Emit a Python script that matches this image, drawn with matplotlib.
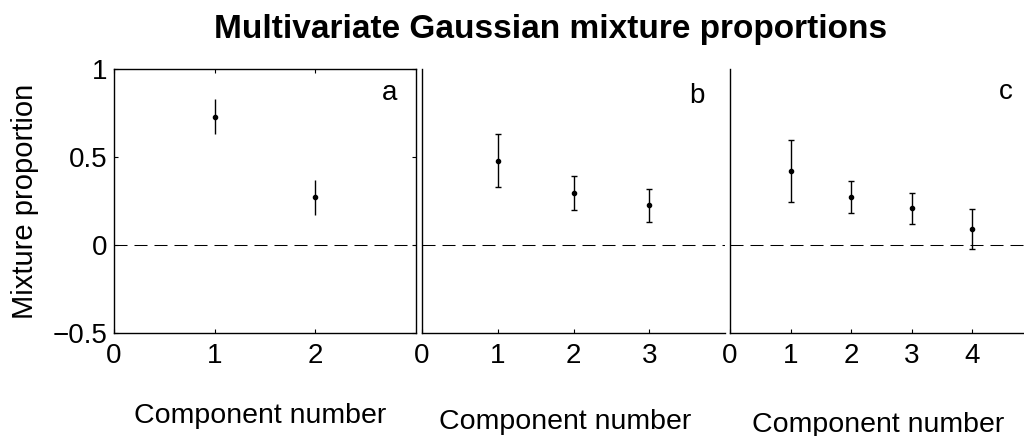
import matplotlib
matplotlib.use("Agg")
import matplotlib.pyplot as plt

plt.rcParams['font.family'] = ['Liberation Sans', 'DejaVu Sans']

# Data
panel_labels = ["a", "b", "c"]
a_x = [1, 2]
a_mean = [0.73, 0.27]
a_err = [0.10, 0.10]
b_x = [1, 2, 3]
b_mean = [0.48, 0.295, 0.225]
b_err = [0.15, 0.095, 0.092]
c_x = [1, 2, 3, 4]
c_mean = [0.42, 0.273, 0.208, 0.091]
c_err = [0.178, 0.091, 0.089, 0.112]
a_xticks = [0, 1, 2]
b_xticks = [0, 1, 2, 3]
c_xticks = [0, 1, 2, 3, 4]
yticks = [-0.5, 0, 0.5, 1]
ytick_labels = ["\u22120.5", "0", "0.5", "1"]

W, H = 1024, 436
fig = plt.figure(figsize=(W / 100, H / 100), dpi=100)

def rect(left_px, right_px, top_px=69, bottom_px=333):
    return [left_px / W, (H - bottom_px) / H, (right_px - left_px) / W, (bottom_px - top_px) / H]

ax_a = fig.add_axes(rect(114, 416))
ax_b = fig.add_axes(rect(422, 725))
ax_c = fig.add_axes(rect(730, 1033))

FS = 20
panels = [
    (ax_a, a_x, a_mean, a_err, a_xticks, 3, 0, (2.74, 0.824), 0.483, -0.314),
    (ax_b, b_x, b_mean, b_err, b_xticks, 4, 2, (3.63, 0.807), 0.472, -0.338),
    (ax_c, c_x, c_mean, c_err, c_xticks, 5, 2, (4.55, 0.83), 0.488, -0.347),
]

for i, (ax, xs, ms, es, xt, xmax, cap, lpos, lx, ly) in enumerate(panels):
    ax.axhline(0, color='black', lw=0.75, ls=(0, (12.5, 6.7)), zorder=1)
    ax.errorbar(xs, ms, yerr=es, fmt='o', color='black', ms=3, elinewidth=1.0,
                capsize=cap, capthick=1.0, zorder=3)
    ax.set_xlim(0, xmax)
    ax.set_ylim(-0.5, 1)
    ax.set_xticks(xt)
    ax.set_xticklabels([str(t) for t in xt], fontsize=FS)
    ax.text(lpos[0], lpos[1], panel_labels[i], fontsize=FS, ha='center', va='baseline')
    ax.set_xlabel("Component number", fontsize=20.5)
    ax.xaxis.set_label_coords(lx, ly)
    ax.xaxis.label.set_verticalalignment('center')
    for sp in ax.spines.values():
        sp.set_linewidth(1.0)
    if i == 0:
        ax.set_yticks(yticks)
        ax.set_yticklabels(ytick_labels, fontsize=FS)
        ax.tick_params(direction='in', length=3, top=True, right=True, pad=5)
        ax.tick_params(axis='x', pad=7)
        ax.set_ylabel("Mixture proportion", fontsize=21)
        ax.yaxis.set_label_coords(-0.295, 0.5)
        ax.yaxis.label.set_verticalalignment('center')
    else:
        ax.set_yticks([])
        ax.spines['top'].set_visible(False)
        ax.spines['right'].set_visible(False)
        ax.tick_params(axis='x', direction='in', length=3, pad=7)

fig.text(551 / W, 1 - 38 / H, "Multivariate Gaussian mixture proportions",
         fontsize=24, fontweight='bold', ha='center', va='baseline')

fig.savefig("out.png", dpi=100)
